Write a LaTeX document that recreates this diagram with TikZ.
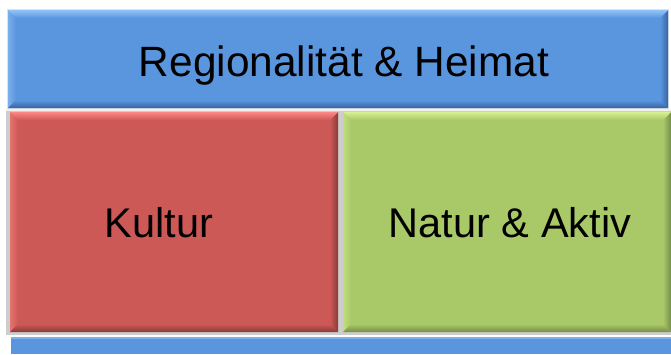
\documentclass[tikz,border=0pt]{standalone}
\usepackage{fontspec}
\setmainfont{Liberation Sans}
\definecolor{bblue}{RGB}{90,150,222}
\definecolor{bbluel}{RGB}{145,195,248}
\definecolor{bblued}{RGB}{55,100,165}
\definecolor{bred}{RGB}{205,89,87}
\definecolor{bredl}{RGB}{252,135,132}
\definecolor{bredd}{RGB}{135,58,56}
\definecolor{bgreen}{RGB}{169,200,104}
\definecolor{bgreenl}{RGB}{215,240,145}
\definecolor{bgreend}{RGB}{118,142,72}
\definecolor{frame}{RGB}{205,205,205}
\newcommand\bevbox[8]{%
  \fill[#5] (#1,#2) rectangle (#3,#4);
  \shade[left color=#6!55!#5, right color=#5] (#1,#2) -- ({#1+#8},{#2+#8}) -- ({#1+#8},{#4-#8}) -- (#1,#4) -- cycle;
  \shade[left color=#5, right color=#7] (#3,#2) -- ({#3-#8},{#2+#8}) -- ({#3-#8},{#4-#8}) -- (#3,#4) -- cycle;
  \shade[top color=#6, bottom color=#5] (#1,#2) -- (#3,#2) -- ({#3-#8},{#2+#8}) -- ({#1+#8},{#2+#8}) -- cycle;
  \shade[top color=#5, bottom color=#7] (#1,#4) -- (#3,#4) -- ({#3-#8},{#4-#8}) -- ({#1+#8},{#4-#8}) -- cycle;
}
\tikzset{lbl/.style={inner sep=0pt, anchor=base, text=black, font=\fontsize{41.5}{48}\selectfont},
  biglbl/.style={lbl, font=\fontsize{42.4}{48}\selectfont}}
\begin{document}
\begin{tikzpicture}[x=1pt,y=-1pt]
\useasboundingbox (0,0) rectangle (671,354);
\fill[white] (0,0) rectangle (671,354);
% top blue box
\fill[frame!60] (7,9) rectangle (669,109);
\bevbox{8}{10}{668}{108}{bblue}{bbluel}{bblued}{8}
% frame for the two boxes
\fill[frame] (6,109) rectangle (671,335);
\fill[white!70!frame] (6,109) rectangle (671,111);
\bevbox{10}{112}{338}{332}{bred}{bredl}{bredd}{8}
\bevbox{343}{112}{671}{332}{bgreen}{bgreenl}{bgreend}{8}
% bottom blue strip
\fill[bblue] (11,337) rectangle (671,354);
\fill[bbluel!60!bblue] (11,337) rectangle (671,338.5);
% labels
\node[biglbl] (top) at (344,76.7) {Regionalität \& Heimat};
\node[lbl] (kultur) at (159,237) {Kultur};
\node[lbl] (natur) at (510,237) {Natur \& Aktiv};
\end{tikzpicture}
\end{document}
